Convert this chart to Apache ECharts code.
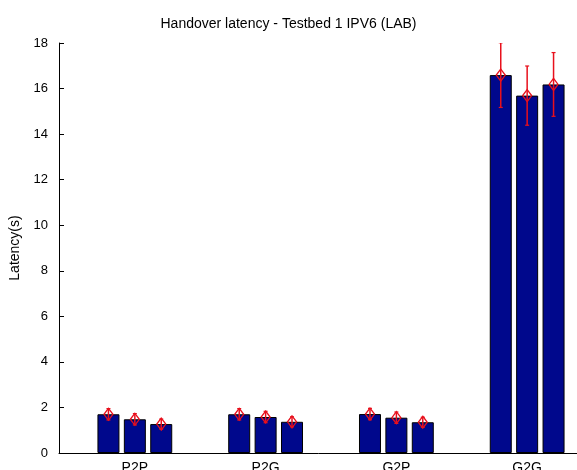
<!DOCTYPE html>
<html>
<head>
<meta charset="utf-8">
<script src="https://cdn.jsdelivr.net/npm/echarts@6/dist/echarts.min.js"></script>
<style>
html,body{margin:0;padding:0;background:#fff;}
#chart{width:577px;height:470px;}
</style>
</head>
<body>
<div id="chart"></div>
<script>
var categories = ['P2P', 'P2G', 'G2P', 'G2G'];
var categoryPos = [1, 2, 3, 4];
var series1 = [1.70, 1.70, 1.71, 16.59];
var series2 = [1.48, 1.58, 1.55, 15.69];
var series3 = [1.27, 1.37, 1.35, 16.18];
var err1 = [0.25, 0.25, 0.25, 1.42];
var err2 = [0.25, 0.25, 0.25, 1.30];
var err3 = [0.22, 0.22, 0.22, 1.40];
var yTicks = [0, 2, 4, 6, 8, 10, 12, 14, 16, 18];

var FONT = "'Liberation Sans', Arial, Helvetica, sans-serif";
var BAR_W = 22;
var BAR_GAP = 0.2;
var BAR_COLOR = '#00088c';
var ERR_COLOR = '#e8101c';

var allSeries = [series1, series2, series3];
var allErr = [err1, err2, err3];

function barData(vals) {
  return vals.map(function (v, i) { return [categoryPos[i], v]; });
}

function errData(vals, errs) {
  return vals.map(function (v, i) { return [categoryPos[i], v, v - errs[i], v + errs[i]]; });
}

function makeErrRender(k) {
  return function (params, api) {
    var x = api.value(0);
    var mean = api.value(1);
    var lo = api.value(2);
    var hi = api.value(3);
    var off = (k - 1) * BAR_W * (1 + BAR_GAP);
    var pm = api.coord([x, mean]);
    var pl = api.coord([x, lo]);
    var ph = api.coord([x, hi]);
    var cx = pm[0] + off;
    var cap = 2;
    var dw = 4.5, dh = 6;
    return {
      type: 'group',
      children: [
        { type: 'line', shape: { x1: cx, y1: pl[1], x2: cx, y2: ph[1] }, style: { stroke: ERR_COLOR, lineWidth: 1.5 } },
        { type: 'line', shape: { x1: cx - cap, y1: ph[1], x2: cx + cap, y2: ph[1] }, style: { stroke: ERR_COLOR, lineWidth: 1.2 } },
        { type: 'line', shape: { x1: cx - cap, y1: pl[1], x2: cx + cap, y2: pl[1] }, style: { stroke: ERR_COLOR, lineWidth: 1.2 } },
        { type: 'polygon', shape: { points: [[cx, pm[1] - dh], [cx + dw, pm[1]], [cx, pm[1] + dh], [cx - dw, pm[1]]] },
          style: { stroke: ERR_COLOR, fill: 'none', lineWidth: 1.3 } }
      ]
    };
  };
}

var series = [];
allSeries.forEach(function (vals, k) {
  series.push({
    type: 'bar',
    data: barData(vals),
    barWidth: BAR_W,
    barGap: (BAR_GAP * 100) + '%',
    itemStyle: { color: BAR_COLOR, borderColor: '#000000', borderWidth: 1 },
    silent: true,
    animation: false
  });
});
allSeries.forEach(function (vals, k) {
  series.push({
    type: 'custom',
    data: errData(vals, allErr[k]),
    renderItem: makeErrRender(k),
    clip: true,
    z: 10,
    silent: true,
    animation: false
  });
});

var chart = echarts.init(document.getElementById('chart'), null, { renderer: 'canvas' });
chart.setOption({
  backgroundColor: '#ffffff',
  animation: false,
  title: {
    text: 'Handover latency - Testbed 1 IPV6 (LAB)',
    left: 'center',
    top: 17,
    padding: 0,
    textStyle: { fontFamily: FONT, fontSize: 14, fontWeight: 'normal', color: '#000' }
  },
  grid: { left: 59, top: 43, width: 544, height: 410, containLabel: false, outerBoundsMode: 'none' },
  xAxis: {
    type: 'value',
    min: 0.42,
    max: 4.58,
    splitLine: { show: false },
    axisLine: { show: true, onZero: false, lineStyle: { color: '#000', width: 1 } },
    axisTick: { show: false },
    axisLabel: {
      show: true,
      customValues: categoryPos,
      margin: 8,
      fontFamily: FONT,
      fontSize: 14,
      color: '#000',
      formatter: function (v) {
        var i = categoryPos.indexOf(v);
        return i >= 0 ? categories[i] : '';
      }
    }
  },
  yAxis: {
    type: 'value',
    min: 0,
    max: 18,
    interval: 2,
    name: 'Latency(s)',
    nameLocation: 'middle',
    nameGap: 37,
    nameTextStyle: { fontFamily: FONT, fontSize: 14, color: '#000' },
    splitLine: { show: false },
    axisLine: { show: true, lineStyle: { color: '#000', width: 1 } },
    axisTick: { show: true, inside: true, length: 5, lineStyle: { color: '#000' } },
    axisLabel: {
      margin: 11,
      fontFamily: FONT,
      fontSize: 13,
      color: '#000',
      customValues: yTicks
    }
  },
  series: series
});
</script>
</body>
</html>
